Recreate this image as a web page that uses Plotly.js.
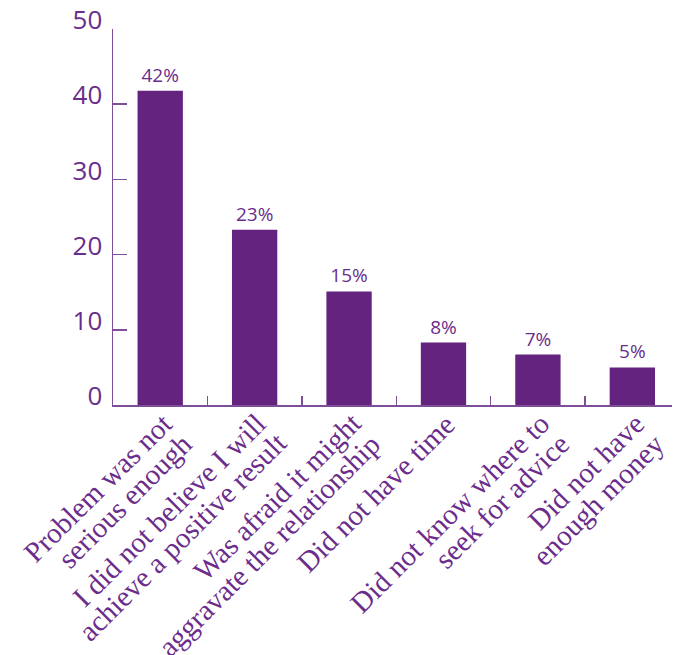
<!DOCTYPE html>
<html>
<head>
<meta charset="utf-8">
<script src="https://cdn.plot.ly/plotly-3.0.1.min.js"></script>
<style>html,body{margin:0;padding:0;background:#fff;}#chart{width:675px;height:655px;}</style>
</head>
<body>
<div id="chart"></div>
<script>
const categories = [
  "Problem was not<br>serious enough",
  "I did not believe I will<br>achieve a positive result",
  "Was afraid it might<br>aggravate the relationship",
  "Did not have time",
  "Did not know where to<br>seek for advice",
  "Did not have<br>enough money"
];
const values = [41.8, 23.3, 15.1, 8.3, 6.7, 5.0];
const valueLabels = ["42%", "23%", "15%", "8%", "7%", "5%"];
const yTicks = [0, 10, 20, 30, 40, 50];

const purple = "#63237e";
const textPurple = "#6b2d8c";
const axisPurple = "#7d4f98";

const trace = {
  type: "bar",
  x: categories,
  y: values,
  text: valueLabels,
  textposition: "outside",
  cliponaxis: false,
  textfont: {family: "Open Sans", size: 19, color: textPurple},
  marker: {color: purple},
  width: 0.48,
  hoverinfo: "skip"
};

// rotated category labels, one annotation per text line so the line spacing matches
const labelSize = 29;
const lineStep = 20;
const annotations = [];
categories.forEach((cat, i) => {
  cat.split("<br>").forEach((line, j) => {
    annotations.push({
      xref: "x", yref: "y", x: cat, y: 0,
      text: line, showarrow: false, textangle: -45,
      xanchor: "right", yanchor: "top",
      xshift: 19 + lineStep * j, yshift: -1 - lineStep * j,
      borderpad: 0,
      font: {family: "Liberation Serif", size: labelSize, color: textPurple}
    });
  });
});

const layout = {
  width: 675, height: 655,
  margin: {l: 113, r: 3, t: 29, b: 250},
  paper_bgcolor: "#fff", plot_bgcolor: "#fff",
  showlegend: false,
  xaxis: {
    type: "category",
    range: [-0.5, 5.42],
    tickson: "boundaries",
    ticks: "inside", ticklen: 9, tickwidth: 1.5, tickcolor: axisPurple,
    showline: true, linecolor: axisPurple, linewidth: 1.5,
    showgrid: false, zeroline: false,
    showticklabels: false
  },
  yaxis: {
    range: [0, 50],
    tickmode: "array", tickvals: yTicks, ticktext: yTicks.map(String),
    ticks: "inside", ticklen: 14, tickwidth: 1.5, tickcolor: axisPurple,
    showline: true, linecolor: axisPurple, linewidth: 1.5,
    showgrid: false, zeroline: false,
    ticklabelshift: -9, ticklabelstandoff: 4,
    tickfont: {family: "Open Sans", size: 26, color: textPurple}
  },
  annotations: annotations
};

Plotly.newPlot("chart", [trace], layout, {displayModeBar: false, staticPlot: true});
</script>
</body>
</html>
